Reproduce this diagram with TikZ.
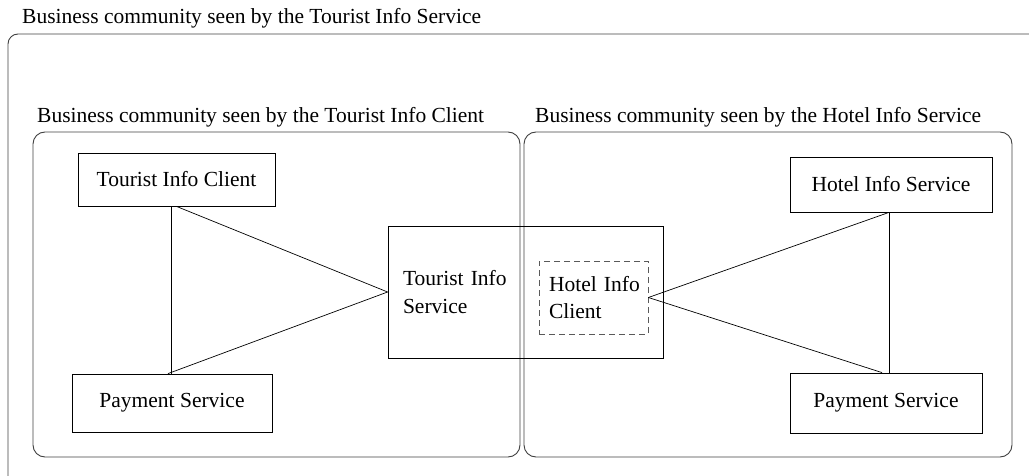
\documentclass[tikz,border=0pt]{standalone}
\usepackage{fontspec}
\setmainfont{Liberation Serif}
\usetikzlibrary{calc}

\tikzset{
  comp/.style={draw, line width=0.8pt, inner sep=0pt, rectangle},
  community/.style={draw=black!75, line width=0.9pt, rounded corners=12pt},
  commtitle/.style={anchor=west, inner sep=0pt},
  link/.style={line width=0.7pt}
}

\begin{document}
\begin{tikzpicture}[x=1pt,y=-1pt,font=\fontsize{21.5}{27.5}\selectfont]
\useasboundingbox (0,0) rectangle (1029,476);
\clip (0,0) rectangle (1029,476);

% communities
\draw[community, rounded corners=10pt] (8,34) rectangle (1060,500);
\node[commtitle] (outertitle) at (22,18) {Business community seen by the Tourist Info Service};

\draw[community] (33,132) rectangle (520,457);
\node[commtitle] (lefttitle) at (37,117) {Business community seen by the Tourist Info Client};

\draw[community] (524,132) rectangle (1012,457);
\node[commtitle] (righttitle) at (535,117) {Business community seen by the Hotel Info Service};

% components
\node[comp, minimum width=197pt, minimum height=53pt] (tic) at (176.5,179.5) {Tourist Info Client};
\node[comp, minimum width=200pt, minimum height=58pt] (payL) at (172,403) {Payment Service};

\node[comp, minimum width=275pt, minimum height=132pt, text width=245pt, align=left,
      inner xsep=15pt] (tis) at (525.5,292) {Tourist Info\\Service};
\node[comp, draw=black!65, dash pattern=on 6pt off 4pt, minimum width=109pt, minimum height=73pt,
      text width=99pt, align=left, inner xsep=5pt] (hic) at (593.5,297.5)
      {\hspace*{5pt}Hotel Info\\\hspace*{5pt}Client};

\node[comp, minimum width=202pt, minimum height=55pt] (his) at (891,184.5) {Hotel Info Service};
\node[comp, minimum width=192pt, minimum height=60pt] (payR) at (886,403) {Payment Service};

% links
\draw[link] ([xshift=-5pt]tic.south) -- ([xshift=-5pt]tic.south |- payL.north);
\draw[link] (tic.south) -- (tis.west);
\draw[link] ([xshift=-4pt]payL.north) -- (tis.west);

\draw[link] ([xshift=-2pt]his.south) -- ([xshift=-2pt]his.south |- payR.north);
\draw[link] ([xshift=-2pt]his.south) -- (hic.east);
\draw[link] (hic.east) -- ([xshift=-4pt]payR.north);
\end{tikzpicture}
\end{document}
